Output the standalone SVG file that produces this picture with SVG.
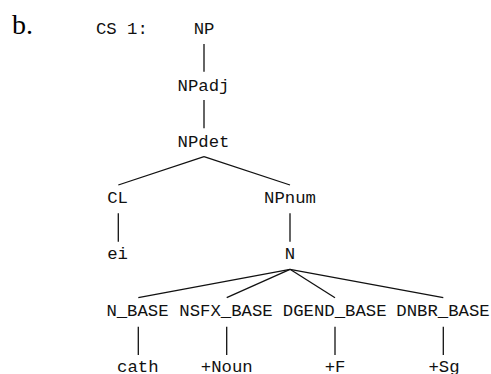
<svg xmlns="http://www.w3.org/2000/svg" width="491" height="374" viewBox="0 0 491 374">
  <style>
    .lbl { font-family: "Liberation Mono", "Courier New", monospace; font-size: 17.3px; fill: #111; text-anchor: middle; }
    .tag { font-family: "Liberation Mono", "Courier New", monospace; font-size: 17.3px; fill: #111; }
    .item { font-family: "Liberation Serif", "Times New Roman", serif; font-size: 28px; fill: #000; }
    .edge { stroke: #111; stroke-width: 1.3; fill: none; }
  </style>
  <rect width="491" height="374" fill="#fff"/>

  <text class="item" x="12" y="34.3">b.</text>
  <text class="tag" x="96" y="33.5">CS 1:</text>

  <g id="edges">
    <line class="edge" x1="204" y1="44" x2="204" y2="71.7"/>
    <line class="edge" x1="204" y1="100" x2="204" y2="128.3"/>
    <line class="edge" x1="204" y1="156.7" x2="118.3" y2="185"/>
    <line class="edge" x1="204" y1="156.7" x2="290" y2="185"/>
    <line class="edge" x1="118.3" y1="213.3" x2="118.3" y2="241.7"/>
    <line class="edge" x1="290" y1="213.3" x2="290" y2="241.7"/>
    <line class="edge" x1="290" y1="269.3" x2="138.3" y2="297.7"/>
    <line class="edge" x1="290" y1="269.3" x2="226.7" y2="297.7"/>
    <line class="edge" x1="290" y1="269.3" x2="335" y2="297.7"/>
    <line class="edge" x1="290" y1="269.3" x2="443.3" y2="297.7"/>
    <line class="edge" x1="138.3" y1="326.7" x2="138.3" y2="355"/>
    <line class="edge" x1="226.7" y1="326.7" x2="226.7" y2="355"/>
    <line class="edge" x1="335" y1="326.7" x2="335" y2="355"/>
    <line class="edge" x1="443.3" y1="326.7" x2="443.3" y2="355"/>
  </g>

  <g id="np"><text class="lbl" x="204" y="33.5">NP</text></g>
  <g id="npadj"><text class="lbl" x="203.5" y="90.5">NPadj</text></g>
  <g id="npdet"><text class="lbl" x="203.5" y="146.5">NPdet</text></g>
  <g id="cl"><text class="lbl" x="117.5" y="203">CL</text></g>
  <g id="npnum"><text class="lbl" x="290" y="203">NPnum</text></g>
  <g id="ei"><text class="lbl" x="117.5" y="259">ei</text></g>
  <g id="n"><text class="lbl" x="290" y="259">N</text></g>
  <g id="n-base"><text class="lbl" x="137.5" y="316">N_BASE</text></g>
  <g id="nsfx-base"><text class="lbl" x="226" y="316">NSFX_BASE</text></g>
  <g id="dgend-base"><text class="lbl" x="334.7" y="316">DGEND_BASE</text></g>
  <g id="dnbr-base"><text class="lbl" x="443" y="316">DNBR_BASE</text></g>
  <g id="cath"><text class="lbl" x="137.8" y="371.5">cath</text></g>
  <g id="noun"><text class="lbl" x="226.7" y="371.5">+Noun</text></g>
  <g id="fem"><text class="lbl" x="335" y="371.5">+F</text></g>
  <g id="sg"><text class="lbl" x="444" y="371.5">+Sg</text></g>
</svg>
